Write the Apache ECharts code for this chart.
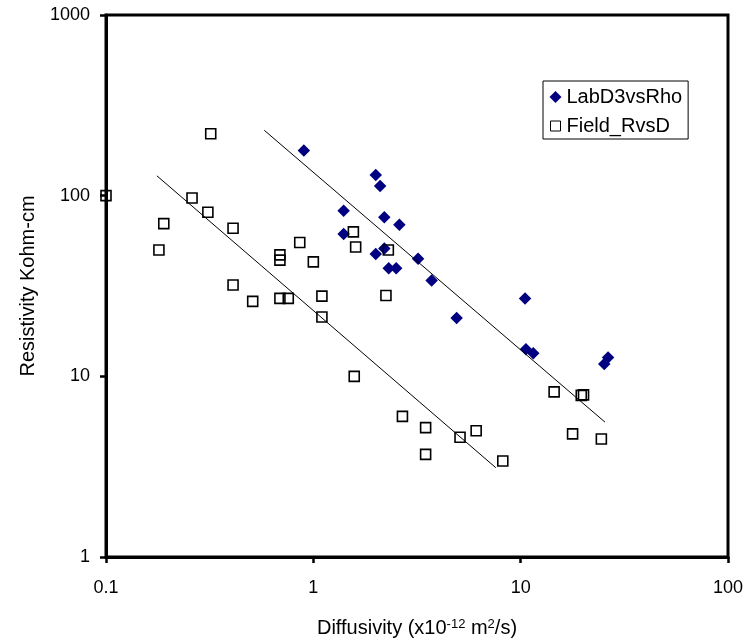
<!DOCTYPE html>
<html>
<head>
<meta charset="utf-8">
<script src="https://cdn.jsdelivr.net/npm/echarts@6/dist/echarts.min.js"></script>
<style>
html,body{margin:0;padding:0;background:#fff;}
#chart{width:749px;height:643px;}
</style>
</head>
<body>
<div id="chart"></div>
<script>
// ---- data ----
var labX = [0.9, 2.0, 2.1, 1.4, 2.2, 2.6, 1.4, 2.2, 2.0, 2.31, 2.51, 3.2, 3.72, 4.91, 10.5, 10.6, 11.5, 26.4, 25.3];
var labY = [178, 130, 113, 82.5, 76, 69, 61.4, 51, 47.6, 39.7, 39.7, 44.7, 33.9, 21, 27, 14.1, 13.4, 12.7, 11.7];

var fieldX = [0.1, 0.18, 0.19, 0.26, 0.31, 0.32, 0.41, 0.41, 0.51, 0.69, 0.69, 0.69, 0.757, 0.86, 1.0, 1.1, 1.1, 1.56, 1.6, 1.575, 2.24, 2.3, 2.69, 3.48, 3.48, 5.1, 6.1, 8.2, 14.5, 19.6, 20.1, 17.8, 24.5];
var fieldY = [100, 50, 70, 97, 81, 220, 66, 32, 26, 47, 44, 27, 27, 55, 43, 27.8, 21.3, 63, 52, 10, 28, 50, 6, 5.2, 3.7, 4.6, 5.0, 3.4, 8.2, 7.85, 7.9, 4.8, 4.5];

var labTrendX = [0.58, 25.5];
var labTrendY = [230, 5.58];
var fieldTrendX = [0.176, 7.59];
var fieldTrendY = [128.8, 3.12];

var xTickValues = [0.1, 1, 10, 100];
var xTickLabels = ['0.1', '1', '10', '100'];
var yTickValues = [1, 10, 100, 1000];
var yTickLabels = ['1', '10', '100', '1000'];

var seriesNames = ['LabD3vsRho', 'Field_RvsD'];

function zip(a, b) { return a.map(function (v, i) { return [v, b[i]]; }); }
function labelFor(values, labels) {
  return function (v) {
    var e = Math.round(Math.log10(v));
    for (var i = 0; i < values.length; i++) {
      if (Math.round(Math.log10(values[i])) === e) return labels[i];
    }
    return '';
  };
}

var FONT = 'Arial, "Liberation Sans", sans-serif';
var chart = echarts.init(document.getElementById('chart'), null, {renderer: 'canvas'});
chart.setOption({
  backgroundColor: '#ffffff',
  animation: false,
  textStyle: {fontFamily: FONT, color: '#000'},
  grid: {
    left: 106, right: 21, top: 15, bottom: 84,
    show: true, borderColor: '#000', borderWidth: 3, backgroundColor: 'transparent'
  },
  legend: {
    left: 543, top: 81,
    orient: 'vertical',
    backgroundColor: '#fff',
    borderColor: '#000', borderWidth: 1,
    padding: [6, 6, 3, 6],
    itemGap: 9,
    itemWidth: 12, itemHeight: 12,
    textStyle: {fontFamily: FONT, fontSize: 20, color: '#000'},
    data: [
      {name: seriesNames[0], icon: 'diamond'},
      {name: seriesNames[1], icon: 'path://M0,0M1,1h10v10h-10zM12,12', itemStyle: {color: 'transparent', borderColor: '#000', borderWidth: 1}}
    ]
  },
  xAxis: {
    type: 'log', logBase: 10, min: 0.1, max: 100,
    name: '{a|Diffusivity (x10}{s|-12}{a| m}{s|2}{a|/s)}',
    nameLocation: 'middle', nameGap: 61,
    nameTextStyle: {
      fontFamily: FONT, color: '#000',
      rich: {
        a: {fontFamily: FONT, fontSize: 20, lineHeight: 20, color: '#000'},
        s: {fontFamily: FONT, fontSize: 13, lineHeight: 20, verticalAlign: 'top', color: '#000'}
      }
    },
    axisLine: {show: true, lineStyle: {color: '#000', width: 3}},
    axisTick: {show: true, inside: false, length: 6, lineStyle: {color: '#000', width: 2.5}},
    minorTick: {show: false},
    splitLine: {show: false},
    axisLabel: {fontFamily: FONT, fontSize: 18, color: '#000', margin: 22, formatter: labelFor(xTickValues, xTickLabels)}
  },
  yAxis: {
    type: 'log', logBase: 10, min: 1, max: 1000,
    name: 'Resistivity Kohm-cm',
    nameLocation: 'middle', nameGap: 68, nameRotate: 90,
    nameTextStyle: {fontFamily: FONT, fontSize: 20, color: '#000'},
    axisLine: {show: true, lineStyle: {color: '#000', width: 3}},
    axisTick: {show: true, inside: false, length: 6, lineStyle: {color: '#000', width: 2.5}},
    minorTick: {show: false},
    splitLine: {show: false},
    axisLabel: {fontFamily: FONT, fontSize: 18, color: '#000', margin: 16, formatter: labelFor(yTickValues, yTickLabels)}
  },
  series: [
    {
      name: seriesNames[0], type: 'scatter', symbol: 'diamond', symbolSize: 12.5,
      clip: false, z: 2,
      itemStyle: {color: '#000080', opacity: 1},
      data: zip(labX, labY)
    },
    {
      name: seriesNames[1], type: 'scatter', symbol: 'rect', symbolSize: 10,
      clip: false, z: 2,
      itemStyle: {color: 'transparent', borderColor: '#000', borderWidth: 1.6, opacity: 1},
      data: zip(fieldX, fieldY)
    },
    {
      name: 'labTrend', type: 'line', symbol: 'none', silent: true, z: 3,
      lineStyle: {color: '#000', width: 1},
      data: zip(labTrendX, labTrendY)
    },
    {
      name: 'fieldTrend', type: 'line', symbol: 'none', silent: true, z: 3,
      lineStyle: {color: '#000', width: 1},
      data: zip(fieldTrendX, fieldTrendY)
    }
  ]
});
</script>
</body>
</html>
